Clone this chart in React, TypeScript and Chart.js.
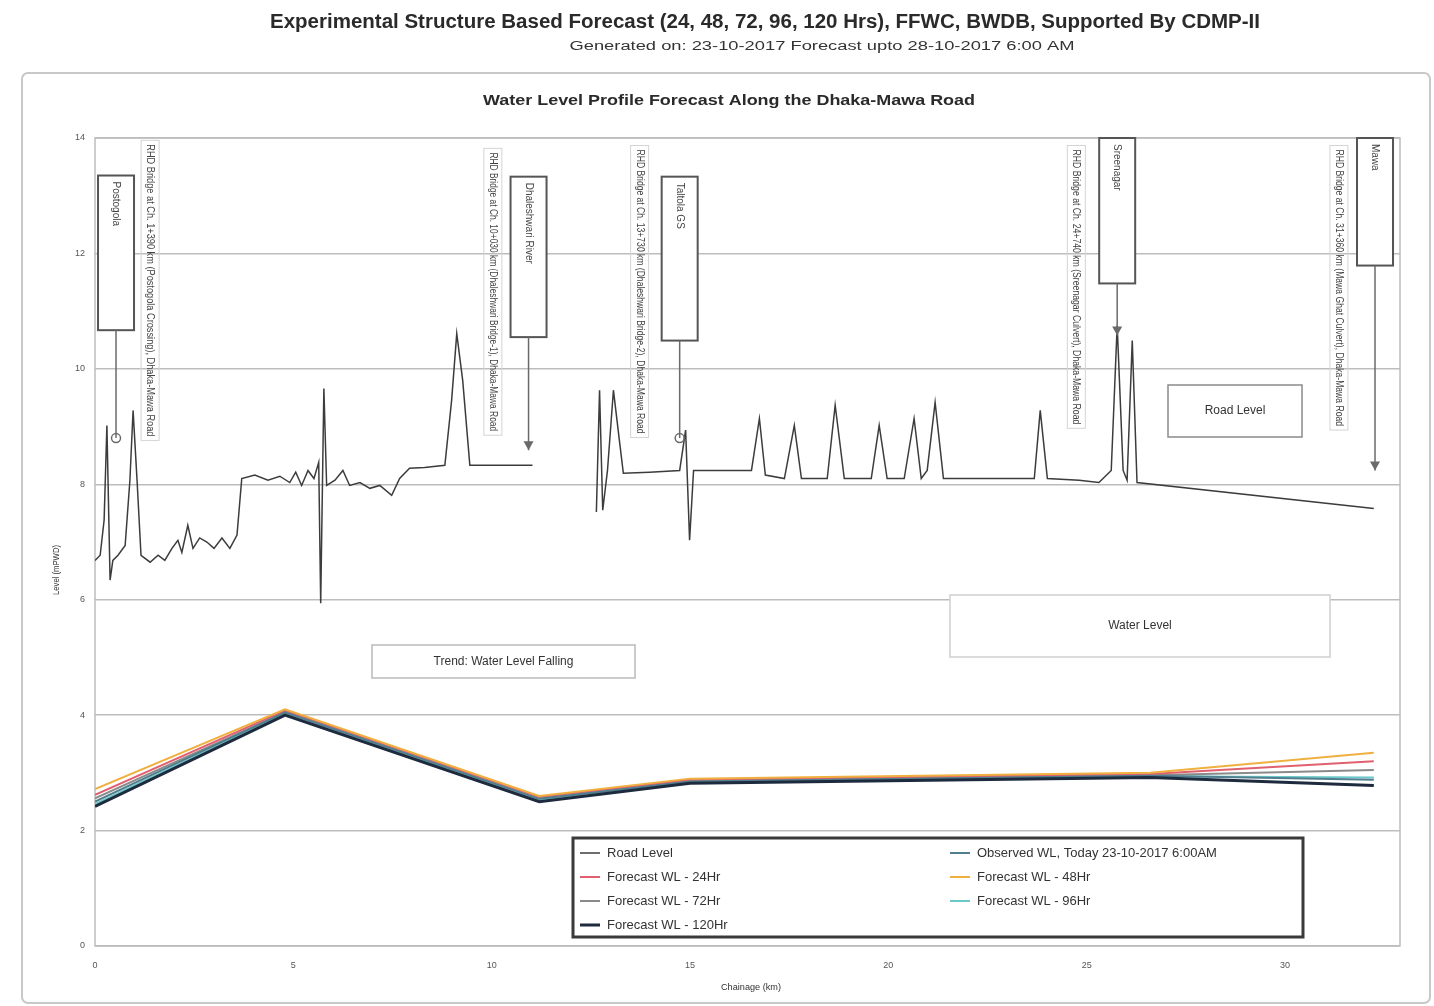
import React, { useEffect, useRef } from "react";
import { Chart, registerables } from "chart.js";

Chart.register(...registerables);

// ---------- Data ----------
const roadChainage: number[] = [
  0, 0.13, 0.23, 0.3, 0.38, 0.45, 0.58, 0.76, 0.88, 0.96, 1.06, 1.16, 1.39, 1.59, 1.76, 1.94, 2.09, 2.19,
  2.34, 2.47, 2.64, 2.82, 3.0, 3.2, 3.4, 3.58, 3.7, 4.03, 4.36, 4.66, 4.91, 5.06, 5.21, 5.37, 5.52, 5.64,
  5.69, 5.77, 5.84, 6.05, 6.25, 6.42, 6.68, 6.93, 7.18, 7.48, 7.68, 7.93, 8.31, 8.82, 8.99, 9.12, 9.27,
  9.45, 10.2, 11.03, 11.5, 12.64, 12.72, 12.8, 12.92, 13.07, 13.22, 13.32, 13.98, 14.74, 14.89, 14.99,
  15.09, 15.74, 16.55, 16.75, 16.9, 17.38, 17.63, 17.81, 18.46, 18.66, 18.89, 19.57, 19.77, 19.97, 20.4,
  20.65, 20.83, 20.98, 21.18, 21.39, 22.29, 23.3, 23.68, 23.83, 24.01, 24.81, 25.31, 25.62, 25.77, 25.92,
  26.02, 26.15, 26.27, 32.24,
];
const roadLevel: (number | null)[] = [
  6.68, 6.77, 7.38, 9.02, 6.34, 6.68, 6.77, 6.94, 8.07, 9.28, 8.07, 6.77, 6.65, 6.77, 6.68, 6.89, 7.03, 6.82,
  7.29, 6.89, 7.07, 7.0, 6.89, 7.07, 6.89, 7.12, 8.1, 8.16, 8.07, 8.14, 8.03, 8.21, 7.98, 8.24, 8.1, 8.38,
  5.94, 9.66, 7.98, 8.07, 8.24, 7.98, 8.03, 7.93, 7.98, 7.81, 8.1, 8.28, 8.29, 8.33, 9.45, 10.61, 9.8,
  8.33, 8.33, 8.33, null, 7.52, 9.63, 7.55, 8.24, 9.63, 8.76, 8.19, 8.21, 8.24, 8.94, 7.03,
  8.24, 8.24, 8.24, 9.14, 8.16, 8.1, 9.02, 8.1, 8.1, 9.37, 8.1, 8.1, 9.02, 8.1, 8.1,
  9.14, 8.1, 8.24, 9.42, 8.1, 8.1, 8.1, 8.1, 9.28, 8.1, 8.07, 8.03, 8.24, 10.75, 8.24,
  8.07, 10.49, 8.03, 7.58,
];

const wlChainage: number[] = [0, 4.79, 11.2, 15.0, 26.6, 32.24];
const wlObserved: number[] = [2.5, 4.05, 2.55, 2.85, 2.95, 2.88];
const wl24: number[] = [2.62, 4.08, 2.58, 2.88, 2.98, 3.2];
const wl48: number[] = [2.72, 4.1, 2.6, 2.9, 3.0, 3.35];
const wl72: number[] = [2.56, 4.05, 2.55, 2.86, 2.96, 3.05];
const wl96: number[] = [2.46, 4.02, 2.52, 2.84, 2.94, 2.92];
const wl120: number[] = [2.42, 4.0, 2.5, 2.82, 2.92, 2.78];

const seriesNames: string[] = [
  "Road Level",
  "Observed WL, Today 23-10-2017 6:00AM",
  "Forecast WL - 24Hr",
  "Forecast WL - 48Hr",
  "Forecast WL - 72Hr",
  "Forecast WL - 96Hr",
  "Forecast WL - 120Hr",
];
const seriesColors: string[] = ["#3c3c3c", "#4f7f8f", "#e0606f", "#f0b040", "#8a8a8a", "#6cc8c8", "#1e2a3e"];
const seriesWidths: number[] = [1.5, 2, 2, 2, 2, 2, 3];

// x axis / y axis
const xMin = 0;
const xMax = 32.9;
const xStep = 5;
const yMin = 0;
const yMax = 14;
const yStep = 2;

// Structure labels (long vertical text)
const structText: string[] = [
  "RHD Bridge at Ch. 1+390 km (Postogola Crossing), Dhaka-Mawa Road",
  "RHD Bridge at Ch. 10+030 km (Dhaleshwari Bridge-1), Dhaka-Mawa Road",
  "RHD Bridge at Ch. 13+730 km (Dhaleshwari Bridge-2), Dhaka-Mawa Road",
  "RHD Bridge at Ch. 24+740 km (Sreenagar Culvert), Dhaka-Mawa Road",
  "RHD Bridge at Ch. 31+360 km (Mawa Ghat Culvert), Dhaka-Mawa Road",
];
const structChainage: number[] = [1.39, 10.03, 13.73, 24.74, 31.36];
const structTop: number[] = [13.96, 13.82, 13.87, 13.87, 13.87];
const structBottom: number[] = [8.76, 8.85, 8.81, 8.97, 8.94];

// Gauge station boxes with arrows
const boxText: string[] = ["Postogola", "Dhaleshwari River", "Taltola GS", "Sreenagar", "Mawa"];
const boxChainage: number[] = [0.53, 10.93, 14.74, 25.77, 32.27];
const boxTop: number[] = [13.35, 13.33, 13.33, 14.0, 14.0];
const boxBottom: number[] = [10.67, 10.55, 10.49, 11.48, 11.79];
const boxTarget: number[] = [8.8, 8.59, 8.8, 10.58, 8.24];
const boxEnd: string[] = ["circle", "arrow", "circle", "arrow", "arrow"];

const FONT = "'Liberation Sans Narrow', 'Liberation Sans', 'DejaVu Sans Condensed', sans-serif";

function fitText(
  ctx: CanvasRenderingContext2D,
  text: string,
  x: number,
  y: number,
  width: number,
  font: string,
  color: string,
  rotate = 0,
  align: CanvasTextAlign = "center"
) {
  ctx.save();
  ctx.font = font;
  const w = ctx.measureText(text).width;
  const s = width / w;
  ctx.translate(x, y);
  if (rotate) ctx.rotate(rotate);
  ctx.scale(s, 1);
  ctx.fillStyle = color;
  ctx.textAlign = align;
  ctx.textBaseline = "middle";
  ctx.fillText(text, 0, 0);
  ctx.restore();
}

const decorPlugin = {
  id: "decor",
  beforeDraw(chart: any) {
    const ctx: CanvasRenderingContext2D = chart.ctx;
    ctx.save();
    ctx.fillStyle = "#ffffff";
    ctx.fillRect(0, 0, chart.width, chart.height);
    // outer frame
    ctx.strokeStyle = "#c8c8c8";
    ctx.lineWidth = 2;
    ctx.beginPath();
    (ctx as any).roundRect ? (ctx as any).roundRect(22, 73, 1408, 930, 6) : ctx.rect(22, 73, 1408, 930);
    ctx.stroke();
    ctx.restore();
    fitText(ctx, "Experimental Structure Based Forecast (24, 48, 72, 96, 120 Hrs), FFWC, BWDB, Supported By CDMP-II",
      765, 22, 990, "bold 20px " + FONT, "#2a2a2a");
    fitText(ctx, "Generated on: 23-10-2017 Forecast upto 28-10-2017 6:00 AM", 822, 47, 505, "12px " + FONT, "#333");
    fitText(ctx, "Water Level Profile Forecast Along the Dhaka-Mawa Road", 729, 101, 492, "bold 14px " + FONT, "#2a2a2a");
    fitText(ctx, "Level (mPWD)", 57, 570, 50, "9px " + FONT, "#333", -Math.PI / 2);
    fitText(ctx, "Chainage (km)", 751, 988, 60, "9px " + FONT, "#333");
  },
  beforeDatasetsDraw(chart: any) {
    const ctx: CanvasRenderingContext2D = chart.ctx;
    const a = chart.chartArea;
    ctx.save();
    ctx.strokeStyle = "#bdbdbd";
    ctx.lineWidth = 1.5;
    ctx.strokeRect(a.left, a.top, a.right - a.left, a.bottom - a.top);
    ctx.restore();
  },
  afterDatasetsDraw(chart: any) {
    const ctx: CanvasRenderingContext2D = chart.ctx;
    const xs = chart.scales.x;
    const ys = chart.scales.y;
    // structure labels
    structText.forEach((t, i) => {
      const x = xs.getPixelForValue(structChainage[i]);
      const y1 = ys.getPixelForValue(structTop[i]);
      const y2 = ys.getPixelForValue(structBottom[i]);
      ctx.save();
      ctx.strokeStyle = "#d4d4d4";
      ctx.lineWidth = 1;
      ctx.strokeRect(x - 9, y1, 18, y2 - y1);
      ctx.restore();
      fitText(ctx, t, x, (y1 + y2) / 2, (y2 - y1) - 8, "11px " + FONT, "#444", Math.PI / 2);
    });
    // boxes with arrows
    boxText.forEach((t, i) => {
      const x = xs.getPixelForValue(boxChainage[i]);
      const y1 = ys.getPixelForValue(boxTop[i]);
      const y2 = ys.getPixelForValue(boxBottom[i]);
      const yt = ys.getPixelForValue(boxTarget[i]);
      ctx.save();
      ctx.fillStyle = "#ffffff";
      ctx.fillRect(x - 18, y1, 36, y2 - y1);
      ctx.strokeStyle = "#555";
      ctx.lineWidth = 2;
      ctx.strokeRect(x - 18, y1, 36, y2 - y1);
      ctx.strokeStyle = "#6a6a6a";
      ctx.lineWidth = 1.5;
      ctx.beginPath();
      ctx.moveTo(x, y2);
      ctx.lineTo(x, yt);
      ctx.stroke();
      if (boxEnd[i] === "circle") {
        ctx.beginPath();
        ctx.arc(x, yt, 4.5, 0, Math.PI * 2);
        ctx.stroke();
      } else {
        ctx.fillStyle = "#6a6a6a";
        ctx.beginPath();
        ctx.moveTo(x - 5, yt - 9);
        ctx.lineTo(x + 5, yt - 9);
        ctx.lineTo(x, yt);
        ctx.closePath();
        ctx.fill();
      }
      ctx.restore();
      ctx.save();
      ctx.font = "10px " + FONT;
      ctx.fillStyle = "#444";
      ctx.translate(x, y1 + 6);
      ctx.rotate(Math.PI / 2);
      ctx.textAlign = "left";
      ctx.textBaseline = "middle";
      ctx.fillText(t, 0, 0);
      ctx.restore();
    });
    // text boxes
    const tb = (txt: string, x1: number, y1: number, x2: number, y2: number, col: string, w: number) => {
      ctx.save();
      ctx.fillStyle = "#fff";
      ctx.fillRect(x1, y1, x2 - x1, y2 - y1);
      ctx.strokeStyle = col;
      ctx.lineWidth = w;
      ctx.strokeRect(x1, y1, x2 - x1, y2 - y1);
      ctx.font = "12px " + FONT;
      ctx.fillStyle = "#333";
      ctx.textAlign = "center";
      ctx.textBaseline = "middle";
      ctx.fillText(txt, (x1 + x2) / 2, (y1 + y2) / 2);
      ctx.restore();
    };
    tb("Road Level", 1168, 385, 1302, 437, "#8a8a8a", 1.5);
    tb("Water Level", 950, 595, 1330, 657, "#cfcfcf", 1.5);
    tb("Trend: Water Level Falling", 372, 645, 635, 678, "#bbbbbb", 1.5);
    // legend
    ctx.save();
    ctx.fillStyle = "#fff";
    ctx.fillRect(573, 838, 730, 99);
    ctx.strokeStyle = "#3a3a3a";
    ctx.lineWidth = 3;
    ctx.strokeRect(573, 838, 730, 99);
    ctx.restore();
    const rowsY = [853, 877, 901, 925];
    seriesNames.forEach((n, i) => {
      const col = i % 2;
      const row = Math.floor(i / 2);
      const lx = col === 0 ? 580 : 950;
      const y = rowsY[row];
      ctx.save();
      ctx.strokeStyle = seriesColors[i];
      ctx.lineWidth = seriesWidths[i];
      ctx.beginPath();
      ctx.moveTo(lx, y);
      ctx.lineTo(lx + 20, y);
      ctx.stroke();
      ctx.font = "13px 'Liberation Sans', sans-serif";
      ctx.fillStyle = "#333";
      ctx.textBaseline = "middle";
      ctx.fillText(n, lx + 27, y);
      ctx.restore();
    });
  },
};

export default function App() {
  const ref = useRef<HTMLCanvasElement | null>(null);
  useEffect(() => {
    if (!ref.current) return;
    const roadData = roadChainage.map((x, i) => ({ x, y: roadLevel[i] }));
    const wlSets = [wlObserved, wl24, wl48, wl72, wl96, wl120];
    const orders = [3, 4, 2, 5, 6, 1];
    const datasets: any[] = [
      {
        label: seriesNames[0],
        data: roadData,
        borderColor: seriesColors[0],
        borderWidth: seriesWidths[0],
        pointRadius: 0,
        spanGaps: false,
        order: 0,
      },
      ...wlSets.map((arr, k) => ({
        label: seriesNames[k + 1],
        data: wlChainage.map((x, i) => ({ x, y: arr[i] })),
        borderColor: seriesColors[k + 1],
        borderWidth: seriesWidths[k + 1],
        pointRadius: 0,
        order: orders[k],
      })),
    ];
    const chart = new Chart(ref.current, {
      type: "line",
      data: { datasets },
      plugins: [decorPlugin],
      options: {
        responsive: false,
        animation: false,
        layout: { padding: { left: 30, right: 34, top: 138, bottom: 0 } },
        plugins: { legend: { display: false }, title: { display: false }, tooltip: { enabled: false } },
        scales: {
          x: {
            type: "linear",
            min: xMin,
            max: xMax,
            grid: { display: false, drawTicks: false },
            border: { display: false },
            ticks: { stepSize: xStep, includeBounds: false, padding: 14, color: "#555", font: { size: 9, family: FONT } },
            afterBuildTicks: (s: any) => {
              s.ticks = s.ticks.filter((t: any) => t.value % xStep === 0);
            },
            afterFit: (s: any) => {
              s.height = 60;
            },
          } as any,
          y: {
            type: "linear",
            min: yMin,
            max: yMax,
            grid: { color: "#bdbdbd", lineWidth: 1.5, drawTicks: false },
            border: { display: false },
            ticks: { stepSize: yStep, padding: 10, color: "#555", font: { size: 9, family: FONT } },
            afterFit: (s: any) => {
              s.width = 65;
            },
          } as any,
        },
      },
    });
    return () => chart.destroy();
  }, []);
  return (
    <div style={{ position: "fixed", left: 0, top: 0, width: 1434, height: 1006, background: "#fff" }}>
      <canvas ref={ref} width={1434} height={1006} style={{ width: 1434, height: 1006 }} />
    </div>
  );
}
